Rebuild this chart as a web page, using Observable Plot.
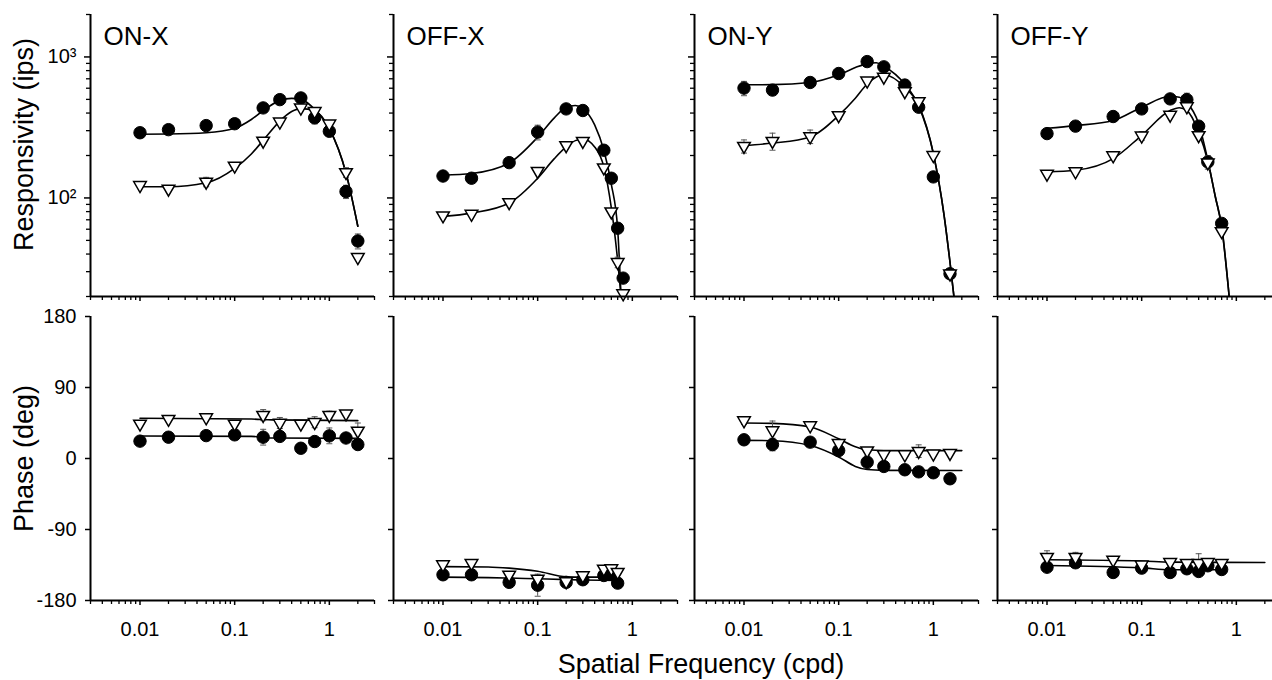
<!DOCTYPE html>
<html><head><meta charset="utf-8">
<script src="https://cdn.jsdelivr.net/npm/d3@7"></script>
<script src="https://cdn.jsdelivr.net/npm/@observablehq/plot@0.6"></script>
<style>
html,body{margin:0;padding:0;background:#fff;}
#fig{position:relative;width:1272px;height:680px;overflow:hidden;font-family:"Liberation Sans",Arial,sans-serif;background:#fff;}
.cell{position:absolute;}
.cell svg{max-width:none !important;}
#xlabel{position:absolute;top:651px;left:701px;transform:translateX(-50%);font-size:27px;line-height:26px;white-space:nowrap;color:#000;}
</style></head><body>
<div id="fig"><div id="xlabel">Spatial Frequency (cpd)</div></div>
<script>
// ---------- tick values ----------
const X_MAJOR = [0.01, 0.1, 1];
const X_MINOR = [0.003,0.004,0.005,0.006,0.007,0.008,0.009,0.02,0.03,0.04,0.05,0.06,0.07,0.08,0.09,0.2,0.3,0.4,0.5,0.6,0.7,0.8,0.9,2,3];
const RESP_MAJOR = [100, 1000];
const RESP_MINOR = [20,30,40,50,60,70,80,90,200,300,400,500,600,700,800,900,2000];
const PHASE_TICKS = [-180, -90, 0, 90, 180];
const TITLES = ["ON-X", "OFF-X", "ON-Y", "OFF-Y"];

// ---------- ON-X ----------
const FREQ_ONX = [0.01,0.02,0.05,0.1,0.2,0.3,0.5,0.7,1,1.5,2];
const RESP_DOT_ONX = [290,305,326,336,435,498,512,370,297,111,49.5];
const RESP_TRI_ONX = [123,116,130,169,254,347,436,412,336,152,38];
const RESP_DOT_ERR_ONX = [0,0,0,0,0,0,0,35,0,12,6];
const RESP_TRI_ERR_ONX = [0,0,10,0,0,0,0,0,0,12,0];
const PH_DOT_ONX = [22,27,29,30,27,28,13,21.5,28.7,26,17.7];
const PH_TRI_ONX = [44,50,52,44,55,45,44,46,55,57,35];
const PH_DOT_ERR_ONX = [0,0,0,0,10,0,0,0,10,0,0];
const PH_TRI_ERR_ONX = [0,0,0,0,7,7,0,7,5,0,10];
const FITR_F_ONX = [0.01,0.02,0.05,0.1,0.15,0.2,0.3,0.4,0.5,0.7,1,1.5,2];
const FITR_DOT_ONX = [283,284,290,312,360,417,490,508,500,425,310,150,63];
const FITR_TRI_ONX = [120,120,128,162,205,256,351,410,430,415,310,150,63];
const FITP_F_ONX = [0.01,0.15,0.25,2];
const FITP_DOT_ONX = [28.5,28,26,25.5];
const FITP_TRI_ONX = [51,50,49,48];

// ---------- OFF-X ----------
const FREQ_OFFX = [0.01,0.02,0.05,0.1,0.2,0.3,0.5,0.6,0.7,0.8];
const RESP_DOT_OFFX = [143,138,178,293,428,417,218,138,61,27];
const RESP_TRI_OFFX = [75,77,93,155,236,253,164,80,35,21];
const RESP_DOT_ERR_OFFX = [0,0,0,35,0,0,0,0,0,0];
const RESP_TRI_ERR_OFFX = [0,0,0,0,0,0,0,0,3,0];
const PHFREQ_OFFX = [0.01,0.02,0.05,0.1,0.2,0.3,0.5,0.6,0.7];
const PH_DOT_OFFX = [-147.4,-147.4,-157,-160.6,-157,-153.7,-148.3,-147,-158];
const PH_TRI_OFFX = [-134.3,-132.7,-147.4,-152.5,-155.9,-148.3,-139.8,-139.4,-144];
const PH_DOT_ERR_OFFX = [0,0,0,14,0,0,0,0,0];
const PH_TRI_ERR_OFFX = [0,0,0,0,0,0,0,0,0];
const FITR_F_OFFX = [0.01,0.02,0.05,0.1,0.15,0.2,0.25,0.3,0.4,0.5,0.6,0.7,0.76];
const FITR_DOT_OFFX = [145,149,177,270,370,440,452,430,330,218,125,60,20];
const FITR_TRI_OFFX = [74,78,92,138,190,230,255,262,230,166,85,36,20];
const FITP_F_OFFX = [0.01,0.03,0.05,0.1,0.2,0.3,0.7];
const FITP_DOT_OFFX = [-150.4,-151,-151.5,-152.5,-153.5,-154,-154.6];
const FITP_TRI_OFFX = [-137,-137.5,-139,-143,-150,-150.4,-150.4];

// ---------- ON-Y ----------
const FREQ_ONY = [0.01,0.02,0.05,0.1,0.2,0.3,0.5,0.7,1,1.5];
const RESP_DOT_ONY = [601,582,659,763,927,851,632,440,141,29];
const RESP_TRI_ONY = [233,253,273,385,678,722,570,484,201,29];
const RESP_DOT_ERR_ONY = [70,0,0,0,70,0,0,0,0,0];
const RESP_TRI_ERR_ONY = [25,35,30,25,0,0,0,0,0,0];
const PH_DOT_ONY = [23.7,17.7,20.7,10.1,-4.7,-10.1,-14.3,-16.9,-18.1,-25.7];
const PH_TRI_ONY = [48.2,35.5,41.8,19.4,10.1,5.1,5.1,9.3,6,6.8];
const PH_DOT_ERR_ONY = [0,8,0,0,8,0,0,0,0,0];
const PH_TRI_ERR_ONY = [5,12,0,0,0,0,0,8,0,0];
const FITR_F_ONY = [0.01,0.02,0.05,0.1,0.15,0.2,0.25,0.3,0.5,0.7,1,1.3,1.5,1.65];
const FITR_DOT_ONY = [635,636,659,747,840,897,910,860,640,450,207,75,35,20];
const FITR_TRI_ONY = [235,245,271,385,510,643,720,747,608,455,207,75,35,20];
const FITP_F_ONY = [0.01,0.02,0.05,0.1,0.15,0.2,0.3,2];
const FITP_DOT_ONY = [23,22.5,16.5,2,-10,-14,-15,-15.2];
const FITP_TRI_ONY = [45,44.5,40,25,15,11,10,10];

// ---------- OFF-Y ----------
const FREQ_OFFY = [0.01,0.02,0.05,0.1,0.2,0.3,0.4,0.5,0.7];
const RESP_DOT_OFFY = [286,323,378,428,504,498,323,180,66];
const RESP_TRI_OFFY = [148,154,200,276,388,445,278,178,58];
const RESP_DOT_ERR_OFFY = [0,0,0,0,0,55,0,20,0];
const RESP_TRI_ERR_OFFY = [0,0,0,20,0,0,0,0,0];
const PH_DOT_OFFY = [-137.8,-132.2,-144.5,-139,-144.5,-139.8,-143.2,-136,-140.7];
const PH_TRI_OFFY = [-125,-125,-128.4,-134.7,-131.4,-132.7,-132.7,-131.4,-132.7];
const PH_DOT_ERR_OFFY = [0,0,0,0,0,0,0,0,0];
const PH_TRI_ERR_OFFY = [8,6,0,0,0,0,12,0,0];
const FITR_F_OFFY = [0.01,0.02,0.05,0.1,0.2,0.25,0.3,0.4,0.5,0.6,0.7,0.84];
const FITR_DOT_OFFY = [312,326,354,440,526,518,476,336,185,102,63,20];
const FITR_TRI_OFFY = [153,157,190,278,417,436,417,293,182,102,62,20];
const FITP_F_DOT_OFFY = [0.01,0.1,0.2,0.7];
const FITP_DOT_OFFY = [-135.6,-138.6,-141,-141];
const FITP_F_TRI_OFFY = [0.01,0.1,0.2,0.7,2];
const FITP_TRI_OFFY = [-128.4,-130,-131.4,-131.7,-131.8];

const PANELS = [
  {title: TITLES[0], freq: FREQ_ONX, rDot: RESP_DOT_ONX, rTri: RESP_TRI_ONX, rDotE: RESP_DOT_ERR_ONX, rTriE: RESP_TRI_ERR_ONX,
   pFreq: FREQ_ONX, pDot: PH_DOT_ONX, pTri: PH_TRI_ONX, pDotE: PH_DOT_ERR_ONX, pTriE: PH_TRI_ERR_ONX,
   frF: FITR_F_ONX, frDot: FITR_DOT_ONX, frTri: FITR_TRI_ONX,
   fpFD: FITP_F_ONX, fpDot: FITP_DOT_ONX, fpFT: FITP_F_ONX, fpTri: FITP_TRI_ONX},
  {title: TITLES[1], freq: FREQ_OFFX, rDot: RESP_DOT_OFFX, rTri: RESP_TRI_OFFX, rDotE: RESP_DOT_ERR_OFFX, rTriE: RESP_TRI_ERR_OFFX,
   pFreq: PHFREQ_OFFX, pDot: PH_DOT_OFFX, pTri: PH_TRI_OFFX, pDotE: PH_DOT_ERR_OFFX, pTriE: PH_TRI_ERR_OFFX,
   frF: FITR_F_OFFX, frDot: FITR_DOT_OFFX, frTri: FITR_TRI_OFFX,
   fpFD: FITP_F_OFFX, fpDot: FITP_DOT_OFFX, fpFT: FITP_F_OFFX, fpTri: FITP_TRI_OFFX},
  {title: TITLES[2], freq: FREQ_ONY, rDot: RESP_DOT_ONY, rTri: RESP_TRI_ONY, rDotE: RESP_DOT_ERR_ONY, rTriE: RESP_TRI_ERR_ONY,
   pFreq: FREQ_ONY, pDot: PH_DOT_ONY, pTri: PH_TRI_ONY, pDotE: PH_DOT_ERR_ONY, pTriE: PH_TRI_ERR_ONY,
   frF: FITR_F_ONY, frDot: FITR_DOT_ONY, frTri: FITR_TRI_ONY,
   fpFD: FITP_F_ONY, fpDot: FITP_DOT_ONY, fpFT: FITP_F_ONY, fpTri: FITP_TRI_ONY},
  {title: TITLES[3], freq: FREQ_OFFY, rDot: RESP_DOT_OFFY, rTri: RESP_TRI_OFFY, rDotE: RESP_DOT_ERR_OFFY, rTriE: RESP_TRI_ERR_OFFY,
   pFreq: FREQ_OFFY, pDot: PH_DOT_OFFY, pTri: PH_TRI_OFFY, pDotE: PH_DOT_ERR_OFFY, pTriE: PH_TRI_ERR_OFFY,
   frF: FITR_F_OFFY, frDot: FITR_DOT_OFFY, frTri: FITR_TRI_OFFY,
   fpFD: FITP_F_DOT_OFFY, fpDot: FITP_DOT_OFFY, fpFT: FITP_F_TRI_OFFY, fpTri: FITP_TRI_OFFY}
];

// ---------- layout ----------
const FRAME_LEFT = [90, 393, 694, 997];
const FRAME_W = 284;
const FONT = '"Liberation Sans", Arial, Helvetica, sans-serif';

const downTriangle = {
  draw(ctx, size) {
    const y = -Math.sqrt(size / (Math.sqrt(3) * 3));
    ctx.moveTo(0, -2 * y);
    ctx.lineTo(-Math.sqrt(3) * y, y);
    ctx.lineTo(Math.sqrt(3) * y, y);
    ctx.closePath();
  }
};
const capSymbol = {
  draw(ctx, size) { ctx.moveTo(-3, 0); ctx.lineTo(3, 0); }
};
const SUP = {"0":"⁰","1":"¹","2":"²","3":"³","4":"⁴"};
const supFmt = d => "10" + String(Math.round(Math.log10(d))).split("").map(c => SUP[c]).join("");
const blank = () => "";

function errMarks(freq, vals, errs) {
  const idx = d3.range(freq.length).filter(i => errs[i] > 0);
  const fx = idx.map(i => freq[i]);
  const lo = idx.map(i => vals[i] - errs[i]);
  const hi = idx.map(i => vals[i] + errs[i]);
  const st = {stroke: "#555", strokeWidth: 1};
  return [
    Plot.ruleX(idx, {x: fx, y1: lo, y2: hi, ...st}),
    Plot.dot(idx, {x: fx, y: lo, symbol: capSymbol, r: 3, fill: "none", ...st}),
    Plot.dot(idx, {x: fx, y: hi, symbol: capSymbol, r: 3, fill: "none", ...st})
  ];
}

function pointMarks(freq, dots, tris) {
  return [
    Plot.dot(dots, {x: freq, y: dots, r: 6.2, fill: "black", stroke: "black", strokeWidth: 1}),
    Plot.dot(tris, {x: freq, y: tris, r: 4.7, symbol: downTriangle, fill: "white", stroke: "black", strokeWidth: 1.5})
  ];
}

function makePanel(p, i, row) {
  const first = i === 0;
  const ml = first ? 90 : 20, mr = 12;
  const top = row === 0;
  const yDomainMin = top ? 20 : -180;
  const W = ml + FRAME_W + mr;
  const H = top ? 306 : 350;
  const marks = [
    Plot.axisX(X_MINOR, {anchor: "bottom", tickSize: 4, tickFormat: blank, label: null, strokeWidth: 1.3}),
    Plot.axisX(X_MAJOR, {anchor: "bottom", tickSize: 5, tickPadding: 16, fontSize: 20,
      tickFormat: top ? blank : (d => String(d)), label: null, strokeWidth: 1.5}),
  ];
  if (top) {
    marks.push(
      Plot.axisY(RESP_MINOR, {anchor: "left", tickSize: 4, tickFormat: blank, label: null, strokeWidth: 1.3}),
      Plot.axisY(RESP_MAJOR, {anchor: "left", tickSize: 6, tickPadding: 8, fontSize: 20,
        tickFormat: first ? supFmt : blank, label: null, strokeWidth: 1.5}),
      Plot.line(p.frDot, {x: p.frF, y: p.frDot, curve: "monotone-x", stroke: "black", strokeWidth: 1.6, clip: true}),
      Plot.line(p.frTri, {x: p.frF, y: p.frTri, curve: "monotone-x", stroke: "black", strokeWidth: 1.6, clip: true}),
      ...errMarks(p.freq, p.rDot, p.rDotE),
      ...errMarks(p.freq, p.rTri, p.rTriE),
      ...pointMarks(p.freq, p.rDot, p.rTri),
      Plot.text([p.title], {frameAnchor: "top-left", dx: 13, dy: 22, textAnchor: "start", lineAnchor: "middle", fontSize: 26})
    );
    if (first) marks.push(Plot.text(["Responsivity (ips)"], {frameAnchor: "left", dx: -66, dy: -11, rotate: -90, textAnchor: "middle", lineAnchor: "middle", fontSize: 27}));
  } else {
    marks.push(
      Plot.axisY(PHASE_TICKS, {anchor: "left", tickSize: 5, tickPadding: 9, fontSize: 20,
        tickFormat: first ? (d => String(d)) : blank, label: null, strokeWidth: 1.5}),
      Plot.line(p.fpDot, {x: p.fpFD, y: p.fpDot, curve: "monotone-x", stroke: "black", strokeWidth: 1.6, clip: true}),
      Plot.line(p.fpTri, {x: p.fpFT, y: p.fpTri, curve: "monotone-x", stroke: "black", strokeWidth: 1.6, clip: true}),
      ...errMarks(p.pFreq, p.pDot, p.pDotE),
      ...errMarks(p.pFreq, p.pTri, p.pTriE),
      ...pointMarks(p.pFreq, p.pDot, p.pTri)
    );
    if (first) marks.push(Plot.text(["Phase (deg)"], {frameAnchor: "left", dx: -66, rotate: -90, textAnchor: "middle", lineAnchor: "middle", fontSize: 27}));
  }
  marks.push(
    Plot.ruleY([yDomainMin], {stroke: "black", strokeWidth: 2}),
    Plot.ruleX([0.003], {stroke: "black", strokeWidth: 2})
  );
  const plot = Plot.plot({
    width: W,
    height: H,
    marginLeft: ml, marginRight: mr,
    marginTop: top ? 14 : 16,
    marginBottom: top ? 10 : 50,
    x: {type: "log", domain: [0.003, 3], label: null},
    y: top ? {type: "log", domain: [20, 2000], label: null} : {type: "linear", domain: [-180, 180], label: null},
    style: {background: "transparent", fontFamily: FONT, color: "black", overflow: "visible", maxWidth: "none"},
    marks
  });
  const cell = document.createElement("div");
  cell.className = "cell";
  cell.style.left = (FRAME_LEFT[i] - ml) + "px";
  cell.style.top = (top ? 0 : 300) + "px";
  cell.style.width = W + "px";
  cell.style.height = H + "px";
  cell.appendChild(plot);
  document.getElementById("fig").appendChild(cell);
}

PANELS.forEach((p, i) => { makePanel(p, i, 0); makePanel(p, i, 1); });
</script></body></html>
